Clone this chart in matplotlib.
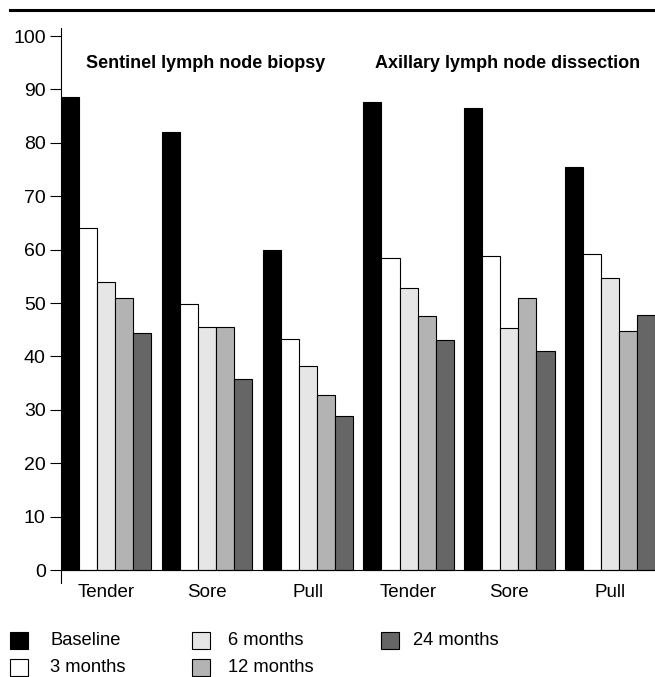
import matplotlib
matplotlib.use("Agg")
import matplotlib.pyplot as plt
from matplotlib.patches import Rectangle
from matplotlib.lines import Line2D

plt.rcParams['font.family'] = ['Liberation Sans', 'DejaVu Sans']

# data
groups = ["Tender", "Sore", "Pull", "Tender", "Sore", "Pull"]
series = ["Baseline", "3 months", "6 months", "12 months", "24 months"]
baseline = [88.5, 82.0, 60.0, 87.7, 86.5, 75.5]
month3 = [64.1, 49.9, 43.3, 58.4, 58.9, 59.1]
month6 = [53.9, 45.6, 38.2, 52.9, 45.3, 54.6]
month12 = [51.0, 45.6, 32.8, 47.6, 50.9, 44.8]
month24 = [44.4, 35.8, 28.9, 43.0, 41.0, 47.8]
panel_titles = ["Sentinel lymph node biopsy", "Axillary lymph node dissection"]
yticks = list(range(0, 101, 10))

values = [baseline, month3, month6, month12, month24]
colors = ["#000000", "#ffffff", "#e6e6e6", "#b3b3b3", "#666666"]

W, H = 655, 677
fig = plt.figure(figsize=(W / 100, H / 100), dpi=100)

ax = fig.add_axes([61 / W, 1 - 583.4 / H, (W - 61) / W, (583.4 - 28) / H])
bw = 0.18
for j, (vals, c) in enumerate(zip(values, colors)):
    xs = [i * 1.004 + j * bw for i in range(len(groups))]
    ax.bar(xs, vals, width=bw, align='edge', color=c, edgecolor='black',
           linewidth=0.8, zorder=2)

ax.set_xlim(0, (W - 61) / 100.4)
ax.set_ylim(-2.5, 101.5)
ax.set_yticks(yticks)
ax.set_xticks([i * 1.004 + 2.5 * bw for i in range(len(groups))])
ax.set_xticklabels(groups)
ax.spines['top'].set_visible(False)
ax.spines['right'].set_visible(False)
ax.spines['bottom'].set_position(('data', 0))
ax.spines['bottom'].set_linewidth(0.8)
ax.spines['left'].set_linewidth(0.8)
ax.tick_params(axis='y', direction='out', length=8, width=0.8, pad=3, labelsize=14)
ax.tick_params(axis='x', length=0, pad=10, labelsize=13.5)

ax.text(0.243, 94.9, panel_titles[0], transform=ax.get_yaxis_transform(),
        ha='center', va='center', fontsize=13, fontweight='bold')
ax.text(0.752, 94.9, panel_titles[1], transform=ax.get_yaxis_transform(),
        ha='center', va='center', fontsize=13, fontweight='bold')

# rule across the top
fig.add_artist(Line2D([10 / W, 1], [1 - 9.5 / H, 1 - 9.5 / H], color='black', lw=2.2))

# legend, filled column by column
col_x = [10, 192, 381]
text_x = [50, 228, 413]
row_y = [640.5, 667]
for k, (name, c) in enumerate(zip(series, colors)):
    x0 = col_x[k // 2]
    y0 = row_y[k % 2]
    fig.add_artist(Rectangle((x0 / W, 1 - (y0 + 8.5) / H), 18 / W, 17 / H,
                             facecolor=c, edgecolor='black', lw=0.8,
                             transform=fig.transFigure))
    fig.text(text_x[k // 2] / W, 1 - y0 / H, name, fontsize=13.2,
             va='center', ha='left')

fig.savefig("out.png", dpi=100)
